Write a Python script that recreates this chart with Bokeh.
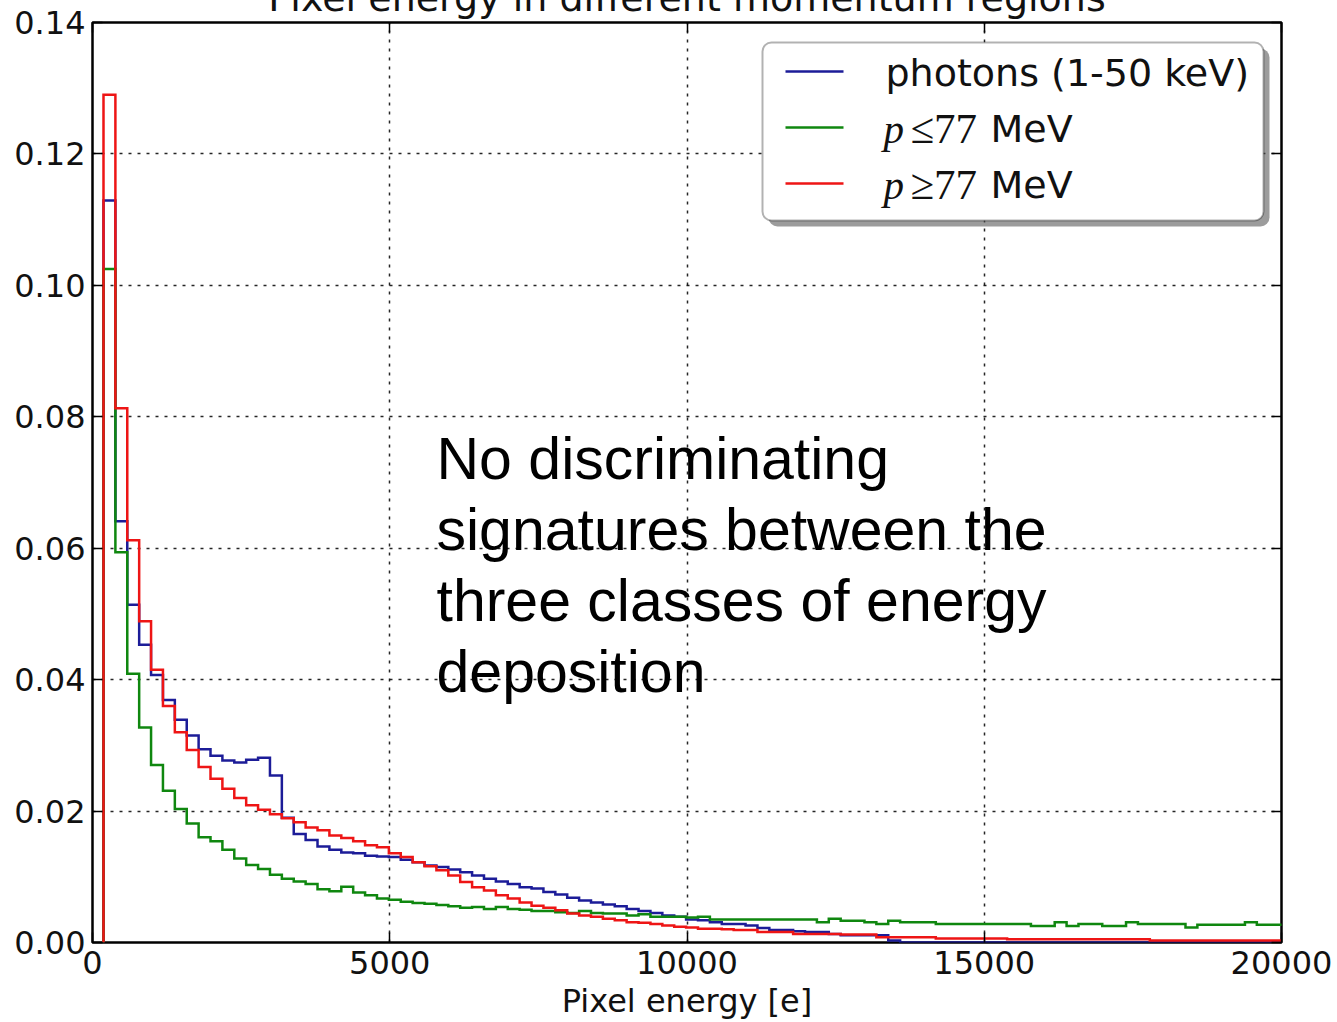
import numpy as np
from bokeh.plotting import figure
from bokeh.models import (Range1d, LinearAxis, FixedTicker, PrintfTickFormatter,
                          Label, BoxAnnotation, Arrow)
from bokeh.embed import file_html
from bokeh.resources import INLINE

# ---------------- data ----------------
TITLE = "Pixel energy in different momentum regions"
X_LABEL = "Pixel energy [e]"
NOTE = "No discriminating\nsignatures between the\nthree classes of energy\ndeposition"
X_TICKS = [0, 5000, 10000, 15000, 20000]
Y_TICKS = [0.00, 0.02, 0.04, 0.06, 0.08, 0.10, 0.12, 0.14]

BIN_START = 185      # first bin edge [e]
BIN_WIDTH = 200      # bin width [e]

photons = [
    0.1129, 0.0641, 0.0514, 0.0453, 0.0407, 0.0369, 0.0339, 0.0315, 0.0294, 0.0284,
    0.0277, 0.0274, 0.0278, 0.0281, 0.0254, 0.0190, 0.0165, 0.0156, 0.0146, 0.0141,
    0.0137, 0.0136, 0.0132, 0.0131, 0.0130, 0.0126, 0.0122, 0.0117, 0.0115, 0.0111,
    0.0107, 0.0102, 0.0097, 0.0093, 0.0089, 0.0084, 0.0082, 0.0077, 0.0073, 0.0068,
    0.0064, 0.0061, 0.0058, 0.0055, 0.0051, 0.0048, 0.0045, 0.0041, 0.0039, 0.0035,
    0.0034, 0.0031, 0.0028, 0.0028, 0.0026, 0.0022, 0.0019, 0.0019, 0.0017, 0.0016,
    0.0016, 0.0013, 0.0011, 0.0011, 0.0011, 0.0011, 0.0003, 0.0, 0.0, 0.0,
    0.0, 0.0, 0.0, 0.0, 0.0, 0.0, 0.0, 0.0, 0.0, 0.0,
    0.0, 0.0, 0.0, 0.0, 0.0, 0.0, 0.0, 0.0, 0.0, 0.0,
    0.0, 0.0, 0.0, 0.0, 0.0, 0.0, 0.0, 0.0, 0.0, 0.0,
]
p_below_77 = [
    0.1025, 0.0594, 0.0409, 0.0327, 0.0270, 0.0231, 0.0203, 0.0181, 0.0160, 0.0154,
    0.0141, 0.0128, 0.0118, 0.0112, 0.0103, 0.0097, 0.0093, 0.0089, 0.0081, 0.0078,
    0.0085, 0.0076, 0.0072, 0.0067, 0.0065, 0.0062, 0.0060, 0.0059, 0.0057, 0.0055,
    0.0053, 0.0054, 0.0051, 0.0054, 0.0051, 0.0050, 0.0048, 0.0048, 0.0046, 0.0045,
    0.0048, 0.0045, 0.0044, 0.0044, 0.0041, 0.0043, 0.0039, 0.0039, 0.0039, 0.0038,
    0.0039, 0.0035, 0.0035, 0.0035, 0.0035, 0.0035, 0.0035, 0.0035, 0.0035, 0.0035,
    0.0031, 0.0036, 0.0033, 0.0033, 0.0031, 0.0028, 0.0033, 0.0031, 0.0031, 0.0031,
    0.0028, 0.0028, 0.0028, 0.0028, 0.0028, 0.0028, 0.0028, 0.0028, 0.0025, 0.0025,
    0.0031, 0.0025, 0.0028, 0.0028, 0.0025, 0.0025, 0.0031, 0.0028, 0.0028, 0.0028,
    0.0028, 0.0023, 0.0027, 0.0027, 0.0027, 0.0027, 0.0031, 0.0027, 0.0027, 0.0027,
]
p_above_77 = [
    0.1290, 0.0813, 0.0612, 0.0489, 0.0415, 0.0360, 0.0320, 0.0293, 0.0267, 0.0249,
    0.0234, 0.0220, 0.0209, 0.0202, 0.0195, 0.0189, 0.0183, 0.0175, 0.0171, 0.0163,
    0.0159, 0.0154, 0.0148, 0.0145, 0.0136, 0.0130, 0.0122, 0.0116, 0.0110, 0.0102,
    0.0092, 0.0084, 0.0079, 0.0072, 0.0067, 0.0061, 0.0056, 0.0053, 0.0049, 0.0044,
    0.0041, 0.0039, 0.0036, 0.0034, 0.0031, 0.0030, 0.0028, 0.0026, 0.0024, 0.0023,
    0.0021, 0.0021, 0.0020, 0.0019, 0.0019, 0.0016, 0.0016, 0.0016, 0.0013, 0.0013,
    0.0013, 0.0013, 0.0012, 0.0012, 0.0012, 0.0008, 0.0008, 0.0008, 0.0008, 0.0008,
    0.0006, 0.0006, 0.0006, 0.0006, 0.0006, 0.0006, 0.0005, 0.0005, 0.0005, 0.0005,
    0.0005, 0.0005, 0.0005, 0.0005, 0.0005, 0.0005, 0.0005, 0.0005, 0.0003, 0.0003,
    0.0003, 0.0003, 0.0003, 0.0003, 0.0003, 0.0003, 0.0003, 0.0003, 0.0003, 0.0003,
]

SERIES = [
    ("photons (1-50 keV)", photons, "#1c1c98"),
    ("p ≤77 MeV", p_below_77, "#0f870f"),
    ("p ≥77 MeV", p_above_77, "#ee1515"),
]

# ---------------- layout (page pixels) ----------------
PAGE_X0, PAGE_Y0 = 0, -40          # figure is pulled up so the title is cut like on the slide
FIG_W, FIG_H = 1337, 1062
FRAME_L, FRAME_R, FRAME_T, FRAME_B = 92, 1281, 22, 942

X0, X1 = X_TICKS[0], X_TICKS[-1]
Y0, Y1 = Y_TICKS[0], Y_TICKS[-1]


def dx(px):
    return X0 + (px - FRAME_L) * (X1 - X0) / (FRAME_R - FRAME_L)


def dy(py):
    return Y0 + (FRAME_B - py) * (Y1 - Y0) / (FRAME_B - FRAME_T)


SANS = "DejaVu Sans"
SERIF = "Liberation Serif"
TXT = "#111111"
TICK_FONT = "32px"

p = figure(width=FIG_W, height=FIG_H,
           x_range=Range1d(X0, X1), y_range=Range1d(Y0, Y1),
           output_backend="svg", toolbar_location=None,
           min_border_left=FRAME_L - PAGE_X0,
           min_border_right=PAGE_X0 + FIG_W - FRAME_R,
           min_border_top=FRAME_T - PAGE_Y0,
           min_border_bottom=PAGE_Y0 + FIG_H - FRAME_B,
           background_fill_color="white", border_fill_color="white")
p.margin = (PAGE_Y0, 0, 0, 0)
p.outline_line_color = "black"
p.outline_line_width = 2.5

p.title.text = TITLE
p.title.text_font = SANS
p.title.text_font_size = "38px"
p.title.text_font_style = "normal"
p.title.text_color = TXT
p.title.align = "center"
p.title.standoff = 5

bottom_ax = p.below[0]
left_ax = p.left[0]
bottom_ax.ticker = FixedTicker(ticks=X_TICKS)
left_ax.ticker = FixedTicker(ticks=Y_TICKS)
bottom_ax.formatter = PrintfTickFormatter(format="%d")
left_ax.formatter = PrintfTickFormatter(format="%.2f")
bottom_ax.axis_label = X_LABEL
bottom_ax.axis_label_text_font = SANS
bottom_ax.axis_label_text_font_size = "32px"
bottom_ax.axis_label_text_font_style = "normal"
bottom_ax.axis_label_text_color = TXT
bottom_ax.axis_label_standoff = 5
bottom_ax.major_label_standoff = 8
left_ax.major_label_standoff = 7

top_ax = LinearAxis(ticker=FixedTicker(ticks=X_TICKS), formatter=PrintfTickFormatter(format=""))
right_ax = LinearAxis(ticker=FixedTicker(ticks=Y_TICKS), formatter=PrintfTickFormatter(format=""))
p.add_layout(top_ax, "above")
p.add_layout(right_ax, "right")

for ax in [bottom_ax, left_ax, top_ax, right_ax]:
    ax.axis_line_color = None
    ax.major_tick_in = 10
    ax.major_tick_out = 0
    ax.major_tick_line_color = "black"
    ax.major_tick_line_width = 1.5
    ax.minor_tick_line_color = None
    ax.major_label_text_font = SANS
    ax.major_label_text_font_size = TICK_FONT
    ax.major_label_text_color = TXT
top_ax.major_label_text_font_size = "1px"
right_ax.major_label_text_font_size = "1px"
top_ax.major_label_standoff = 0
right_ax.major_label_standoff = 0

p.grid.grid_line_color = "black"
p.grid.grid_line_alpha = 0.85
p.grid.grid_line_width = 1.5
p.grid.grid_line_dash = "3 6"

# histograms (step outlines)
edges = BIN_START + BIN_WIDTH * np.arange(len(photons) + 1)
for name, vals, col in SERIES:
    xs = np.repeat(edges, 2)
    ys = np.concatenate([[0.0], np.repeat(np.asarray(vals, dtype=float), 2), [0.0]])
    p.line(xs, ys, line_color=col, line_width=2.5, line_join="miter")

# legend (fancy box with shadow)
p.add_layout(BoxAnnotation(left=dx(768), right=dx(1269), top=dy(48), bottom=dy(226),
                           fill_color="#5a5a5a", fill_alpha=0.6, line_color=None,
                           border_radius=9))
p.add_layout(BoxAnnotation(left=dx(762), right=dx(1263), top=dy(42), bottom=dy(220),
                           fill_color="white", fill_alpha=1.0, line_color="black",
                           line_width=2, border_radius=9))
rows = [71, 127, 183]
for (name, vals, col), ry in zip(SERIES, rows):
    p.add_layout(Arrow(end=None, x_start=dx(785), x_end=dx(843), y_start=dy(ry), y_end=dy(ry),
                       line_color=col, line_width=2.5))

p.add_layout(Label(x=dx(885), y=dy(72), text=SERIES[0][0], text_font=SANS,
                   text_font_size="38px", text_baseline="middle", text_color=TXT))
for (name, vals, col), ry in zip(SERIES[1:], rows[1:]):
    sym, rest = name[2:5], name[6:]
    p.add_layout(Label(x=dx(883), y=dy(ry + 1), text=name[0], text_font=SERIF,
                       text_font_style="italic", text_font_size="41px",
                       text_baseline="middle", text_color=TXT))
    p.add_layout(Label(x=dx(910), y=dy(ry + 1), text=sym, text_font=SERIF,
                       text_font_size="43px", text_baseline="middle", text_color=TXT))
    p.add_layout(Label(x=dx(990), y=dy(ry + 1), text=rest, text_font=SANS,
                       text_font_size="38px", text_baseline="middle", text_color=TXT))

# note text
p.add_layout(Label(x=dx(436), y=dy(425), text=NOTE, text_font="Liberation Sans",
                   text_font_size="59px", text_baseline="top", text_line_height=1.08,
                   text_color="black"))

open("out.html", "w").write(file_html(p, INLINE))
